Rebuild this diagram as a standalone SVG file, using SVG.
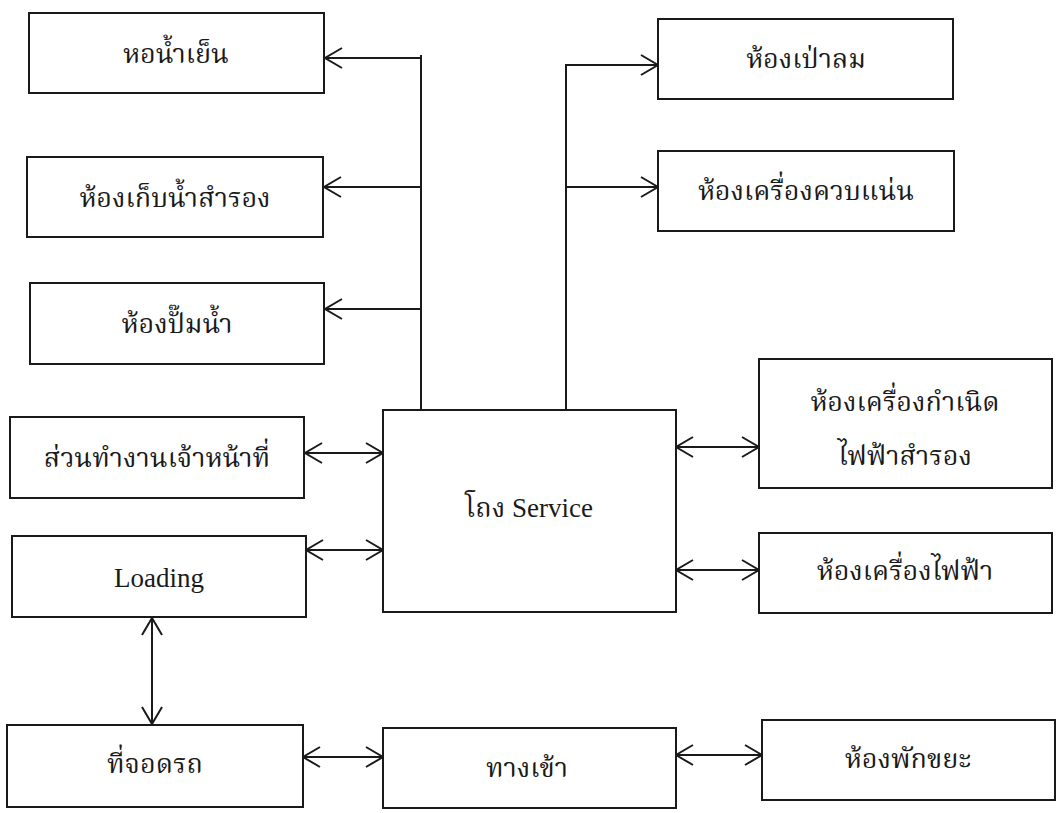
<svg xmlns="http://www.w3.org/2000/svg" width="1058" height="813" viewBox="0 0 1058 813">
  <style>
    .box { fill: #ffffff; stroke: #1a1a1a; stroke-width: 2; }
    .lbl { font-family: "Liberation Serif", "Noto Serif Thai", "Noto Sans Thai", serif; font-size: 27px; fill: #1a1a1a; text-anchor: middle; }
    .lat { font-family: "Liberation Serif", "Noto Serif Thai", serif; font-size: 27px; fill: #1a1a1a; text-anchor: middle; }
    .ln { fill: none; stroke: #1a1a1a; stroke-width: 2; }
  </style>
  <defs>
    <marker id="open" viewBox="0 0 20 22" refX="18" refY="11" markerWidth="20" markerHeight="22" markerUnits="userSpaceOnUse" orient="auto-start-reverse" overflow="visible">
      <path d="M1,1 L18,11 L1,21" fill="none" stroke="#1a1a1a" stroke-width="2"/>
    </marker>
  </defs>
  <rect width="1058" height="813" fill="#ffffff"/>

  <!-- connectors -->
  <g id="connectors">
    <!-- left branch: trunk rising from the service hall -->
    <path class="ln" d="M421,415 V55"/>
    <path class="ln" d="M421,58 H325" marker-end="url(#open)"/>
    <path class="ln" d="M421,187 H324" marker-end="url(#open)"/>
    <path class="ln" d="M421,309 H325" marker-end="url(#open)"/>
    <!-- right branch -->
    <path class="ln" d="M566,409 V65 H658" marker-end="url(#open)"/>
    <path class="ln" d="M566,187 H658" marker-end="url(#open)"/>
    <!-- two-way links -->
    <path class="ln" d="M305,453 H383" marker-start="url(#open)" marker-end="url(#open)"/>
    <path class="ln" d="M306,550 H383" marker-start="url(#open)" marker-end="url(#open)"/>
    <path class="ln" d="M152,618 V724" marker-start="url(#open)" marker-end="url(#open)"/>
    <path class="ln" d="M303,757 H383" marker-start="url(#open)" marker-end="url(#open)"/>
    <path class="ln" d="M676,447 H759" marker-start="url(#open)" marker-end="url(#open)"/>
    <path class="ln" d="M676,570 H759" marker-start="url(#open)" marker-end="url(#open)"/>
    <path class="ln" d="M676,755 H762" marker-start="url(#open)" marker-end="url(#open)"/>
  </g>

  <g id="cooling-tower">
    <rect class="box" x="29" y="13" width="295" height="80"/>
    <text class="lbl" x="176" y="63">หอน้ำเย็น</text>
  </g>
  <g id="water-storage">
    <rect class="box" x="27" y="157" width="296" height="80"/>
    <text class="lbl" x="175" y="207">ห้องเก็บน้ำสำรอง</text>
  </g>
  <g id="pump-room">
    <rect class="box" x="30" y="283" width="294" height="81"/>
    <text class="lbl" x="177" y="333">ห้องปั๊มน้ำ</text>
  </g>
  <g id="staff-area">
    <rect class="box" x="10" y="417" width="294" height="81"/>
    <text class="lbl" x="157" y="467">ส่วนทำงานเจ้าหน้าที่</text>
  </g>
  <g id="loading">
    <rect class="box" x="12" y="536" width="294" height="81"/>
    <text class="lat" x="159" y="587">Loading</text>
  </g>
  <g id="parking">
    <rect class="box" x="7" y="725" width="296" height="82"/>
    <text class="lbl" x="155" y="773">ที่จอดรถ</text>
  </g>
  <g id="service-hall">
    <rect class="box" x="383" y="410" width="293" height="202"/>
    <text class="lat" x="529" y="517">โถง Service</text>
  </g>
  <g id="entrance">
    <rect class="box" x="383" y="728" width="293" height="80"/>
    <text class="lbl" x="527" y="777">ทางเข้า</text>
  </g>
  <g id="blower-room">
    <rect class="box" x="658" y="19" width="295" height="80"/>
    <text class="lbl" x="806" y="68">ห้องเป่าลม</text>
  </g>
  <g id="condenser-room">
    <rect class="box" x="658" y="151" width="296" height="80"/>
    <text class="lbl" x="806" y="200">ห้องเครื่องควบแน่น</text>
  </g>
  <g id="generator-room">
    <rect class="box" x="759" y="359" width="293" height="129"/>
    <text class="lbl" x="905" y="411">ห้องเครื่องกำเนิด</text>
    <text class="lbl" x="905" y="465">ไฟฟ้าสำรอง</text>
  </g>
  <g id="electrical-room">
    <rect class="box" x="759" y="533" width="293" height="80"/>
    <text class="lbl" x="905" y="580">ห้องเครื่องไฟฟ้า</text>
  </g>
  <g id="waste-room">
    <rect class="box" x="762" y="720" width="293" height="80"/>
    <text class="lbl" x="908" y="768">ห้องพักขยะ</text>
  </g>
</svg>
